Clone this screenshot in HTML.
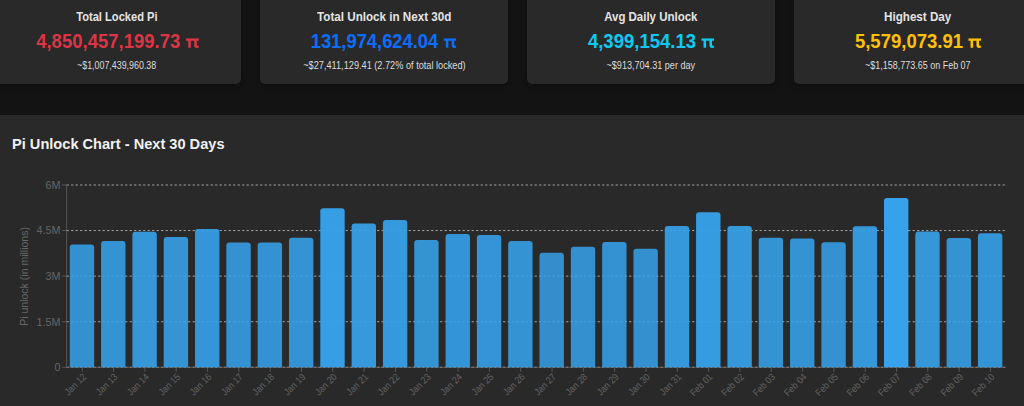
<!DOCTYPE html>
<html><head><meta charset="utf-8"><title>Pi Unlock</title>
<style>
html,body{margin:0;padding:0;}
body{width:1024px;height:406px;overflow:hidden;background:#131313;font-family:"Liberation Sans",sans-serif;position:relative;}
.card{position:absolute;top:-20px;width:248px;height:104px;background:#292929;border-radius:5px;box-shadow:0 2px 5px rgba(0,0,0,.3);text-align:center;}
.card div{position:absolute;left:0;right:0;white-space:nowrap;}
.card span{display:inline-block;transform-origin:50% 50%;}
.pi{margin-left:5.3px;vertical-align:baseline;position:relative;top:0.6px;}
.t{top:29px;font-size:12px;font-weight:bold;color:#e4e4e4;line-height:16px;}
.n{top:50.3px;font-size:18.8px;font-weight:bold;line-height:22px;}
.s{top:79px;font-size:10px;color:#dddddd;line-height:14px;}
.panel{position:absolute;left:-10px;top:114.7px;width:1050px;height:320px;background:#292929;}
h2{position:absolute;left:12px;top:134.5px;margin:0;font-size:14.6px;font-weight:bold;color:#f2f2f2;line-height:18px;white-space:nowrap;}
svg{position:absolute;left:0;top:0;}
svg text{font-family:"Liberation Sans",sans-serif;}
</style></head><body>
<div class="card" style="left:-7px"><div class="t"><span style="transform:scaleX(0.928)">Total Locked Pi</span></div><div class="n" style="color:#dc3545"><span style="transform:scale(0.986,1.035);transform-origin:50% 0">4,850,457,199.73<svg class="pi" width="13.2" height="9.3" viewBox="0 0 13.2 9.8" preserveAspectRatio="none"><path d="M0,0 H13.2 V2.4 H10.9 V6.6 Q10.9,7.6 11.8,7.6 Q12.4,7.6 13.1,7.3 V9.3 Q12.2,9.8 11,9.8 Q8.3,9.8 8.3,7 V2.4 H4.9 V9.7 H2.3 V2.4 H0 Z" fill="currentColor"/></svg></span></div><div class="s"><span style="transform:scaleX(0.887)">~$1,007,439,960.38</span></div></div><div class="card" style="left:260px"><div class="t"><span style="transform:scaleX(0.97)">Total Unlock in Next 30d</span></div><div class="n" style="color:#0d6efd"><span style="transform:scale(0.977,1.035);transform-origin:50% 0">131,974,624.04<svg class="pi" width="13.2" height="9.3" viewBox="0 0 13.2 9.8" preserveAspectRatio="none"><path d="M0,0 H13.2 V2.4 H10.9 V6.6 Q10.9,7.6 11.8,7.6 Q12.4,7.6 13.1,7.3 V9.3 Q12.2,9.8 11,9.8 Q8.3,9.8 8.3,7 V2.4 H4.9 V9.7 H2.3 V2.4 H0 Z" fill="currentColor"/></svg></span></div><div class="s"><span style="transform:scaleX(0.918)">~$27,411,129.41 (2.72% of total locked)</span></div></div><div class="card" style="left:527px"><div class="t"><span style="transform:scaleX(0.956)">Avg Daily Unlock</span></div><div class="n" style="color:#0dcaf0"><span style="transform:scale(0.986,1.035);transform-origin:50% 0">4,399,154.13<svg class="pi" width="13.2" height="9.3" viewBox="0 0 13.2 9.8" preserveAspectRatio="none"><path d="M0,0 H13.2 V2.4 H10.9 V6.6 Q10.9,7.6 11.8,7.6 Q12.4,7.6 13.1,7.3 V9.3 Q12.2,9.8 11,9.8 Q8.3,9.8 8.3,7 V2.4 H4.9 V9.7 H2.3 V2.4 H0 Z" fill="currentColor"/></svg></span></div><div class="s"><span style="transform:scaleX(0.908)">~$913,704.31 per day</span></div></div><div class="card" style="left:794px"><div class="t"><span style="transform:scaleX(0.97)">Highest Day</span></div><div class="n" style="color:#ffc107"><span style="transform:scale(0.986,1.035);transform-origin:50% 0">5,579,073.91<svg class="pi" width="13.2" height="9.3" viewBox="0 0 13.2 9.8" preserveAspectRatio="none"><path d="M0,0 H13.2 V2.4 H10.9 V6.6 Q10.9,7.6 11.8,7.6 Q12.4,7.6 13.1,7.3 V9.3 Q12.2,9.8 11,9.8 Q8.3,9.8 8.3,7 V2.4 H4.9 V9.7 H2.3 V2.4 H0 Z" fill="currentColor"/></svg></span></div><div class="s"><span style="transform:scaleX(0.898)">~$1,158,773.65 on Feb 07</span></div></div>
<div class="panel"></div>
<h2>Pi Unlock Chart - Next 30 Days</h2>
<svg width="1024" height="406" viewBox="0 0 1024 406">
<line x1="66.6" y1="367.30" x2="1006.1" y2="367.30" stroke="#ccc" stroke-dasharray="2.25 2.25" stroke-width="0.75"/>
<line x1="66.6" y1="321.73" x2="1006.1" y2="321.73" stroke="#ccc" stroke-dasharray="2.25 2.25" stroke-width="0.75"/>
<line x1="66.6" y1="276.15" x2="1006.1" y2="276.15" stroke="#ccc" stroke-dasharray="2.25 2.25" stroke-width="0.75"/>
<line x1="66.6" y1="230.57" x2="1006.1" y2="230.57" stroke="#ccc" stroke-dasharray="2.25 2.25" stroke-width="0.75"/>
<line x1="66.6" y1="185.00" x2="1006.1" y2="185.00" stroke="#ccc" stroke-dasharray="2.25 2.25" stroke-width="0.75"/>
<line x1="66.6" y1="367.3" x2="1006.1" y2="367.3" stroke="#666" stroke-width="0.75"/>
<line x1="66.6" y1="185.0" x2="66.6" y2="367.3" stroke="#666" stroke-width="0.75"/>
<path d="M69.76,367.3 L69.76,247.50 A3,3 0 0 1 72.76,244.50 L91.16,244.50 A3,3 0 0 1 94.16,247.50 L94.16,367.3 Z" fill="#36a2eb" fill-opacity="0.863"/>
<path d="M101.07,367.3 L101.07,244.00 A3,3 0 0 1 104.07,241.00 L122.47,241.00 A3,3 0 0 1 125.47,244.00 L125.47,367.3 Z" fill="#36a2eb" fill-opacity="0.873"/>
<path d="M132.39,367.3 L132.39,234.80 A3,3 0 0 1 135.39,231.80 L153.79,231.80 A3,3 0 0 1 156.79,234.80 L156.79,367.3 Z" fill="#36a2eb" fill-opacity="0.900"/>
<path d="M163.71,367.3 L163.71,240.10 A3,3 0 0 1 166.71,237.10 L185.11,237.10 A3,3 0 0 1 188.11,240.10 L188.11,367.3 Z" fill="#36a2eb" fill-opacity="0.885"/>
<path d="M195.03,367.3 L195.03,231.90 A3,3 0 0 1 198.03,228.90 L216.43,228.90 A3,3 0 0 1 219.43,231.90 L219.43,367.3 Z" fill="#36a2eb" fill-opacity="0.909"/>
<path d="M226.34,367.3 L226.34,245.50 A3,3 0 0 1 229.34,242.50 L247.74,242.50 A3,3 0 0 1 250.74,245.50 L250.74,367.3 Z" fill="#36a2eb" fill-opacity="0.869"/>
<path d="M257.66,367.3 L257.66,245.50 A3,3 0 0 1 260.66,242.50 L279.06,242.50 A3,3 0 0 1 282.06,245.50 L282.06,367.3 Z" fill="#36a2eb" fill-opacity="0.869"/>
<path d="M288.98,367.3 L288.98,240.70 A3,3 0 0 1 291.98,237.70 L310.38,237.70 A3,3 0 0 1 313.38,240.70 L313.38,367.3 Z" fill="#36a2eb" fill-opacity="0.883"/>
<path d="M320.29,367.3 L320.29,211.20 A3,3 0 0 1 323.29,208.20 L341.69,208.20 A3,3 0 0 1 344.69,211.20 L344.69,367.3 Z" fill="#36a2eb" fill-opacity="0.970"/>
<path d="M351.61,367.3 L351.61,226.40 A3,3 0 0 1 354.61,223.40 L373.01,223.40 A3,3 0 0 1 376.01,226.40 L376.01,367.3 Z" fill="#36a2eb" fill-opacity="0.925"/>
<path d="M382.92,367.3 L382.92,223.10 A3,3 0 0 1 385.92,220.10 L404.32,220.10 A3,3 0 0 1 407.32,223.10 L407.32,367.3 Z" fill="#36a2eb" fill-opacity="0.935"/>
<path d="M414.24,367.3 L414.24,243.00 A3,3 0 0 1 417.24,240.00 L435.64,240.00 A3,3 0 0 1 438.64,243.00 L438.64,367.3 Z" fill="#36a2eb" fill-opacity="0.876"/>
<path d="M445.56,367.3 L445.56,237.10 A3,3 0 0 1 448.56,234.10 L466.96,234.10 A3,3 0 0 1 469.96,237.10 L469.96,367.3 Z" fill="#36a2eb" fill-opacity="0.893"/>
<path d="M476.88,367.3 L476.88,238.10 A3,3 0 0 1 479.88,235.10 L498.27,235.10 A3,3 0 0 1 501.27,238.10 L501.27,367.3 Z" fill="#36a2eb" fill-opacity="0.890"/>
<path d="M508.19,367.3 L508.19,244.00 A3,3 0 0 1 511.19,241.00 L529.59,241.00 A3,3 0 0 1 532.59,244.00 L532.59,367.3 Z" fill="#36a2eb" fill-opacity="0.873"/>
<path d="M539.51,367.3 L539.51,255.70 A3,3 0 0 1 542.51,252.70 L560.91,252.70 A3,3 0 0 1 563.91,255.70 L563.91,367.3 Z" fill="#36a2eb" fill-opacity="0.838"/>
<path d="M570.83,367.3 L570.83,249.80 A3,3 0 0 1 573.83,246.80 L592.23,246.80 A3,3 0 0 1 595.23,249.80 L595.23,367.3 Z" fill="#36a2eb" fill-opacity="0.856"/>
<path d="M602.14,367.3 L602.14,245.00 A3,3 0 0 1 605.14,242.00 L623.54,242.00 A3,3 0 0 1 626.54,245.00 L626.54,367.3 Z" fill="#36a2eb" fill-opacity="0.870"/>
<path d="M633.46,367.3 L633.46,251.80 A3,3 0 0 1 636.46,248.80 L654.86,248.80 A3,3 0 0 1 657.86,251.80 L657.86,367.3 Z" fill="#36a2eb" fill-opacity="0.850"/>
<path d="M664.77,367.3 L664.77,229.10 A3,3 0 0 1 667.77,226.10 L686.17,226.10 A3,3 0 0 1 689.17,229.10 L689.17,367.3 Z" fill="#36a2eb" fill-opacity="0.917"/>
<path d="M696.09,367.3 L696.09,215.30 A3,3 0 0 1 699.09,212.30 L717.49,212.30 A3,3 0 0 1 720.49,215.30 L720.49,367.3 Z" fill="#36a2eb" fill-opacity="0.958"/>
<path d="M727.41,367.3 L727.41,229.10 A3,3 0 0 1 730.41,226.10 L748.81,226.10 A3,3 0 0 1 751.81,229.10 L751.81,367.3 Z" fill="#36a2eb" fill-opacity="0.917"/>
<path d="M758.73,367.3 L758.73,240.70 A3,3 0 0 1 761.73,237.70 L780.12,237.70 A3,3 0 0 1 783.12,240.70 L783.12,367.3 Z" fill="#36a2eb" fill-opacity="0.883"/>
<path d="M790.04,367.3 L790.04,241.40 A3,3 0 0 1 793.04,238.40 L811.44,238.40 A3,3 0 0 1 814.44,241.40 L814.44,367.3 Z" fill="#36a2eb" fill-opacity="0.881"/>
<path d="M821.36,367.3 L821.36,245.20 A3,3 0 0 1 824.36,242.20 L842.76,242.20 A3,3 0 0 1 845.76,245.20 L845.76,367.3 Z" fill="#36a2eb" fill-opacity="0.869"/>
<path d="M852.68,367.3 L852.68,229.30 A3,3 0 0 1 855.68,226.30 L874.08,226.30 A3,3 0 0 1 877.08,229.30 L877.08,367.3 Z" fill="#36a2eb" fill-opacity="0.916"/>
<path d="M883.99,367.3 L883.99,201.00 A3,3 0 0 1 886.99,198.00 L905.39,198.00 A3,3 0 0 1 908.39,201.00 L908.39,367.3 Z" fill="#36a2eb" fill-opacity="1.000"/>
<path d="M915.31,367.3 L915.31,234.60 A3,3 0 0 1 918.31,231.60 L936.71,231.60 A3,3 0 0 1 939.71,234.60 L939.71,367.3 Z" fill="#36a2eb" fill-opacity="0.901"/>
<path d="M946.62,367.3 L946.62,241.10 A3,3 0 0 1 949.62,238.10 L968.02,238.10 A3,3 0 0 1 971.02,241.10 L971.02,367.3 Z" fill="#36a2eb" fill-opacity="0.882"/>
<path d="M977.94,367.3 L977.94,236.20 A3,3 0 0 1 980.94,233.20 L999.34,233.20 A3,3 0 0 1 1002.34,236.20 L1002.34,367.3 Z" fill="#36a2eb" fill-opacity="0.896"/>
<line x1="82.26" y1="367.3" x2="82.26" y2="371.8" stroke="#666" stroke-width="0.75"/>
<text text-anchor="end" font-size="9.8" fill="#626262" transform="translate(86.96 377.50) rotate(-45) scale(0.89 1)">Jan 12</text>
<line x1="113.57" y1="367.3" x2="113.57" y2="371.8" stroke="#666" stroke-width="0.75"/>
<text text-anchor="end" font-size="9.8" fill="#626262" transform="translate(118.27 377.50) rotate(-45) scale(0.89 1)">Jan 13</text>
<line x1="144.89" y1="367.3" x2="144.89" y2="371.8" stroke="#666" stroke-width="0.75"/>
<text text-anchor="end" font-size="9.8" fill="#626262" transform="translate(149.59 377.50) rotate(-45) scale(0.89 1)">Jan 14</text>
<line x1="176.21" y1="367.3" x2="176.21" y2="371.8" stroke="#666" stroke-width="0.75"/>
<text text-anchor="end" font-size="9.8" fill="#626262" transform="translate(180.91 377.50) rotate(-45) scale(0.89 1)">Jan 15</text>
<line x1="207.53" y1="367.3" x2="207.53" y2="371.8" stroke="#666" stroke-width="0.75"/>
<text text-anchor="end" font-size="9.8" fill="#626262" transform="translate(212.22 377.50) rotate(-45) scale(0.89 1)">Jan 16</text>
<line x1="238.84" y1="367.3" x2="238.84" y2="371.8" stroke="#666" stroke-width="0.75"/>
<text text-anchor="end" font-size="9.8" fill="#626262" transform="translate(243.54 377.50) rotate(-45) scale(0.89 1)">Jan 17</text>
<line x1="270.16" y1="367.3" x2="270.16" y2="371.8" stroke="#666" stroke-width="0.75"/>
<text text-anchor="end" font-size="9.8" fill="#626262" transform="translate(274.86 377.50) rotate(-45) scale(0.89 1)">Jan 18</text>
<line x1="301.48" y1="367.3" x2="301.48" y2="371.8" stroke="#666" stroke-width="0.75"/>
<text text-anchor="end" font-size="9.8" fill="#626262" transform="translate(306.18 377.50) rotate(-45) scale(0.89 1)">Jan 19</text>
<line x1="332.79" y1="367.3" x2="332.79" y2="371.8" stroke="#666" stroke-width="0.75"/>
<text text-anchor="end" font-size="9.8" fill="#626262" transform="translate(337.49 377.50) rotate(-45) scale(0.89 1)">Jan 20</text>
<line x1="364.11" y1="367.3" x2="364.11" y2="371.8" stroke="#666" stroke-width="0.75"/>
<text text-anchor="end" font-size="9.8" fill="#626262" transform="translate(368.81 377.50) rotate(-45) scale(0.89 1)">Jan 21</text>
<line x1="395.42" y1="367.3" x2="395.42" y2="371.8" stroke="#666" stroke-width="0.75"/>
<text text-anchor="end" font-size="9.8" fill="#626262" transform="translate(400.12 377.50) rotate(-45) scale(0.89 1)">Jan 22</text>
<line x1="426.74" y1="367.3" x2="426.74" y2="371.8" stroke="#666" stroke-width="0.75"/>
<text text-anchor="end" font-size="9.8" fill="#626262" transform="translate(431.44 377.50) rotate(-45) scale(0.89 1)">Jan 23</text>
<line x1="458.06" y1="367.3" x2="458.06" y2="371.8" stroke="#666" stroke-width="0.75"/>
<text text-anchor="end" font-size="9.8" fill="#626262" transform="translate(462.76 377.50) rotate(-45) scale(0.89 1)">Jan 24</text>
<line x1="489.38" y1="367.3" x2="489.38" y2="371.8" stroke="#666" stroke-width="0.75"/>
<text text-anchor="end" font-size="9.8" fill="#626262" transform="translate(494.07 377.50) rotate(-45) scale(0.89 1)">Jan 25</text>
<line x1="520.69" y1="367.3" x2="520.69" y2="371.8" stroke="#666" stroke-width="0.75"/>
<text text-anchor="end" font-size="9.8" fill="#626262" transform="translate(525.39 377.50) rotate(-45) scale(0.89 1)">Jan 26</text>
<line x1="552.01" y1="367.3" x2="552.01" y2="371.8" stroke="#666" stroke-width="0.75"/>
<text text-anchor="end" font-size="9.8" fill="#626262" transform="translate(556.71 377.50) rotate(-45) scale(0.89 1)">Jan 27</text>
<line x1="583.33" y1="367.3" x2="583.33" y2="371.8" stroke="#666" stroke-width="0.75"/>
<text text-anchor="end" font-size="9.8" fill="#626262" transform="translate(588.03 377.50) rotate(-45) scale(0.89 1)">Jan 28</text>
<line x1="614.64" y1="367.3" x2="614.64" y2="371.8" stroke="#666" stroke-width="0.75"/>
<text text-anchor="end" font-size="9.8" fill="#626262" transform="translate(619.34 377.50) rotate(-45) scale(0.89 1)">Jan 29</text>
<line x1="645.96" y1="367.3" x2="645.96" y2="371.8" stroke="#666" stroke-width="0.75"/>
<text text-anchor="end" font-size="9.8" fill="#626262" transform="translate(650.66 377.50) rotate(-45) scale(0.89 1)">Jan 30</text>
<line x1="677.27" y1="367.3" x2="677.27" y2="371.8" stroke="#666" stroke-width="0.75"/>
<text text-anchor="end" font-size="9.8" fill="#626262" transform="translate(681.98 377.50) rotate(-45) scale(0.89 1)">Jan 31</text>
<line x1="708.59" y1="367.3" x2="708.59" y2="371.8" stroke="#666" stroke-width="0.75"/>
<text text-anchor="end" font-size="9.8" fill="#626262" transform="translate(713.29 377.50) rotate(-45) scale(0.89 1)">Feb 01</text>
<line x1="739.91" y1="367.3" x2="739.91" y2="371.8" stroke="#666" stroke-width="0.75"/>
<text text-anchor="end" font-size="9.8" fill="#626262" transform="translate(744.61 377.50) rotate(-45) scale(0.89 1)">Feb 02</text>
<line x1="771.23" y1="367.3" x2="771.23" y2="371.8" stroke="#666" stroke-width="0.75"/>
<text text-anchor="end" font-size="9.8" fill="#626262" transform="translate(775.93 377.50) rotate(-45) scale(0.89 1)">Feb 03</text>
<line x1="802.54" y1="367.3" x2="802.54" y2="371.8" stroke="#666" stroke-width="0.75"/>
<text text-anchor="end" font-size="9.8" fill="#626262" transform="translate(807.24 377.50) rotate(-45) scale(0.89 1)">Feb 04</text>
<line x1="833.86" y1="367.3" x2="833.86" y2="371.8" stroke="#666" stroke-width="0.75"/>
<text text-anchor="end" font-size="9.8" fill="#626262" transform="translate(838.56 377.50) rotate(-45) scale(0.89 1)">Feb 05</text>
<line x1="865.18" y1="367.3" x2="865.18" y2="371.8" stroke="#666" stroke-width="0.75"/>
<text text-anchor="end" font-size="9.8" fill="#626262" transform="translate(869.88 377.50) rotate(-45) scale(0.89 1)">Feb 06</text>
<line x1="896.49" y1="367.3" x2="896.49" y2="371.8" stroke="#666" stroke-width="0.75"/>
<text text-anchor="end" font-size="9.8" fill="#626262" transform="translate(901.19 377.50) rotate(-45) scale(0.89 1)">Feb 07</text>
<line x1="927.81" y1="367.3" x2="927.81" y2="371.8" stroke="#666" stroke-width="0.75"/>
<text text-anchor="end" font-size="9.8" fill="#626262" transform="translate(932.51 377.50) rotate(-45) scale(0.89 1)">Feb 08</text>
<line x1="959.12" y1="367.3" x2="959.12" y2="371.8" stroke="#666" stroke-width="0.75"/>
<text text-anchor="end" font-size="9.8" fill="#626262" transform="translate(963.83 377.50) rotate(-45) scale(0.89 1)">Feb 09</text>
<line x1="990.44" y1="367.3" x2="990.44" y2="371.8" stroke="#666" stroke-width="0.75"/>
<text text-anchor="end" font-size="9.8" fill="#626262" transform="translate(995.14 377.50) rotate(-45) scale(0.89 1)">Feb 10</text>
<line x1="61.99999999999999" y1="367.30" x2="66.6" y2="367.30" stroke="#666" stroke-width="0.75"/>
<text text-anchor="end" font-size="11.2" fill="#666" transform="translate(60.40 371.20) scale(0.96 1)">0</text>
<line x1="61.99999999999999" y1="321.73" x2="66.6" y2="321.73" stroke="#666" stroke-width="0.75"/>
<text text-anchor="end" font-size="11.2" fill="#666" transform="translate(60.40 325.62) scale(0.96 1)">1.5M</text>
<line x1="61.99999999999999" y1="276.15" x2="66.6" y2="276.15" stroke="#666" stroke-width="0.75"/>
<text text-anchor="end" font-size="11.2" fill="#666" transform="translate(60.40 280.05) scale(0.96 1)">3M</text>
<line x1="61.99999999999999" y1="230.57" x2="66.6" y2="230.57" stroke="#666" stroke-width="0.75"/>
<text text-anchor="end" font-size="11.2" fill="#666" transform="translate(60.40 234.47) scale(0.96 1)">4.5M</text>
<line x1="61.99999999999999" y1="185.00" x2="66.6" y2="185.00" stroke="#666" stroke-width="0.75"/>
<text text-anchor="end" font-size="11.2" fill="#666" transform="translate(60.40 188.90) scale(0.96 1)">6M</text>
<text text-anchor="middle" font-size="11.2" fill="#666" transform="translate(27.8 276.4) rotate(-90) scale(0.94 1)">Pi unlock (in millions)</text>
</svg>
</body></html>
